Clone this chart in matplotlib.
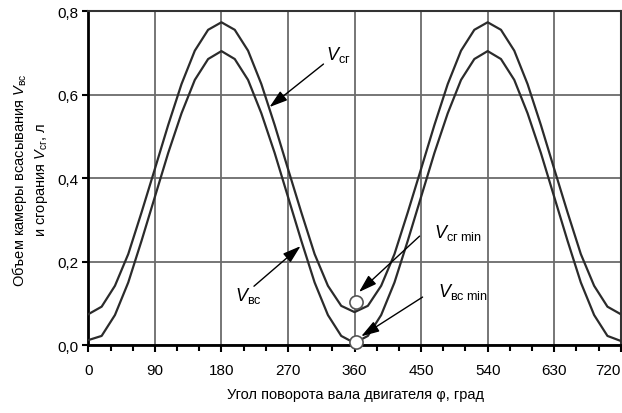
import numpy as np
import matplotlib
matplotlib.use("Agg")
import matplotlib.pyplot as plt

# --- data (every 18 degrees) ---
angle = list(range(0, 721, 18))

v_vs = [0.012, 0.022, 0.072, 0.150, 0.250, 0.355, 0.460, 0.555, 0.635, 0.685, 0.704,
        0.685, 0.635, 0.555, 0.460, 0.355, 0.250, 0.150, 0.072, 0.022, 0.005,
        0.022, 0.072, 0.150, 0.250, 0.355, 0.460, 0.555, 0.635, 0.685, 0.704,
        0.685, 0.635, 0.555, 0.460, 0.355, 0.250, 0.150, 0.072, 0.022, 0.010]

v_sg = [0.074, 0.092, 0.142, 0.218, 0.318, 0.422, 0.527, 0.625, 0.705, 0.755, 0.773,
        0.755, 0.705, 0.625, 0.527, 0.422, 0.318, 0.218, 0.142, 0.094, 0.079,
        0.094, 0.142, 0.218, 0.318, 0.422, 0.527, 0.625, 0.705, 0.755, 0.773,
        0.755, 0.705, 0.625, 0.527, 0.422, 0.318, 0.218, 0.142, 0.092, 0.074]

min_angle = [362, 362]
min_value = [0.103, 0.008]

x_ticks = [0, 90, 180, 270, 360, 450, 540, 630, 720]
y_ticks = [0.0, 0.2, 0.4, 0.6, 0.8]
y_tick_labels = ["0,0", "0,2", "0,4", "0,6", "0,8"]

FONT = ["Liberation Sans", "DejaVu Sans"]
plt.rcParams["font.family"] = FONT
plt.rcParams["mathtext.fontset"] = "custom"
plt.rcParams["mathtext.rm"] = "Liberation Sans"
plt.rcParams["mathtext.it"] = "Liberation Sans:italic"

fig = plt.figure(figsize=(6.22, 4.14), dpi=100)
ax = fig.add_axes([0.142, 0.164, 0.856, 0.807])

ax.plot(angle, v_sg, color="#2b2b2b", lw=1.6, zorder=3)
ax.plot(angle, v_vs, color="#2b2b2b", lw=1.6, zorder=3)
ax.scatter(min_angle, min_value, s=90, facecolor="white", edgecolor="#555555",
           linewidth=1.2, zorder=5, clip_on=False)

ax.set_xlim(0, 720)
ax.set_ylim(0, 0.8)
ax.set_xticks(x_ticks)
ax.set_xticks(range(0, 721, 30), minor=True)
ax.set_yticks(y_ticks)
ax.set_yticklabels(y_tick_labels)
ax.tick_params(axis="both", labelsize=11, direction="out", color="black")
ax.tick_params(axis="x", which="major", length=5, width=1.5, pad=8)
ax.tick_params(axis="x", which="minor", length=4, width=1.5)
ax.tick_params(axis="y", length=4, width=1.5, pad=3)
ax.get_xticklabels()[-1].set_horizontalalignment("right")
ax.grid(True, color="#6b6b6b", lw=1.3)
ax.set_axisbelow(True)
for side in ["left", "bottom"]:
    ax.spines[side].set_linewidth(2.0)
    ax.spines[side].set_color("black")
for side in ["top", "right"]:
    ax.spines[side].set_linewidth(1.5)
    ax.spines[side].set_color("#333333")

# arrows pointing at the curves and the minimum points
arrow = dict(arrowstyle="-|>,head_length=1.1,head_width=0.35", color="black", lw=1.0,
             shrinkA=0, shrinkB=0)
ax.annotate("", xy=(245, 0.570), xytext=(318, 0.673), arrowprops=arrow)
ax.annotate("", xy=(287, 0.237), xytext=(224, 0.141), arrowprops=arrow)
ax.annotate("", xy=(366, 0.127), xytext=(448, 0.261), arrowprops=arrow)
ax.annotate("", xy=(369, 0.021), xytext=(452, 0.115), arrowprops=arrow)

ax.text(322, 0.697, r"$\mathit{V}_{\mathrm{сг}}$", fontsize=13, va="center")
ax.text(198, 0.120, r"$\mathit{V}_{\mathrm{вс}}$", fontsize=13, va="center")
ax.text(468, 0.272, r"$\mathit{V}_{\mathrm{сг\ min}}$", fontsize=13, va="center")
ax.text(473, 0.129, r"$\mathit{V}_{\mathrm{вс\ min}}$", fontsize=13, va="center")

fig.text(0.571, 0.045, "Угол поворота вала двигателя φ, град", fontsize=10.5,
         ha="center", va="center")
fig.text(0.048, 0.565, "Объем камеры всасывания $\\mathit{V}_{\\mathrm{вс}}$\n"
         "и сгорания $\\mathit{V}_{\\mathrm{сг}}$, л", fontsize=10.5, rotation=90,
         ha="center", va="center", multialignment="center", linespacing=1.3)

fig.savefig("out.png", dpi=100)
